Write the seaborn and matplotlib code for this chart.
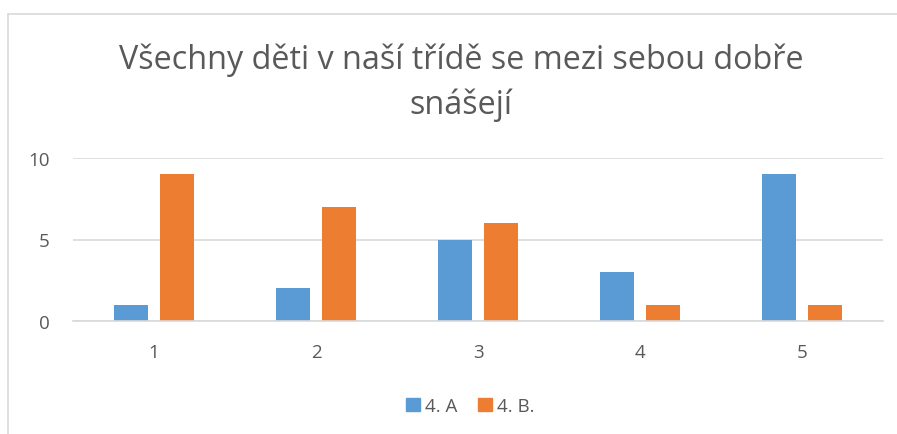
import matplotlib
matplotlib.use("Agg")
import matplotlib.pyplot as plt
import seaborn as sns
import pandas as pd
from matplotlib.lines import Line2D
from matplotlib.patches import Patch

categories = ["1", "2", "3", "4", "5"]
series_a = [1, 2, 5, 3, 9]
series_b = [9, 7, 6, 1, 1]
series_names = ["4. A", "4. B."]
colors = ["#5B9BD5", "#ED7D31"]
title = "Všechny děti v naší třídě se mezi sebou dobře\nsnášejí"

sns.set_theme(style="white")
plt.rcParams['font.family'] = ['Open Sans', 'DejaVu Sans']

df = pd.DataFrame({
    "cat": categories * 2,
    "val": series_a + series_b,
    "series": [series_names[0]] * 5 + [series_names[1]] * 5,
})

fig = plt.figure(figsize=(8.97, 4.35), dpi=100)
ax = fig.add_axes([73/897, 1 - 322/435, (883-73)/897, (322-159)/435])
sns.barplot(data=df, x="cat", y="val", hue="series", palette=colors,
            width=0.568, gap=0.24, ax=ax, legend=False, saturation=1,
            linewidth=0)
ax.set_ylim(0, 10)
ax.set_xlim(-0.5, 4.5)
ax.set_yticks([0, 5, 10])
ax.yaxis.grid(True, color="#D9D9D9", linewidth=1.2)
ax.set_axisbelow(True)
for s in ["top", "right", "left"]:
    ax.spines[s].set_visible(False)
ax.spines["bottom"].set_color("#D9D9D9")
ax.spines["bottom"].set_linewidth(1.2)
ax.set_xlabel("")
ax.set_ylabel("")
ax.tick_params(axis="both", length=0, labelsize=13.5, colors="#595959")
ax.tick_params(axis="y", pad=17)
ax.tick_params(axis="x", pad=16)

fig.text(461/897, 1 - 83/435, title, ha="center", va="center", fontsize=23.3,
         color="#595959", linespacing=1.45)

handles = [Patch(facecolor=c, edgecolor=c) for c in colors]
fig.legend(handles, series_names, loc="center", bbox_to_anchor=(470/897, 1 - 407/435),
           ncol=2, frameon=False, fontsize=13.5, handlelength=0.75, handleheight=0.75,
           handletextpad=0.25, columnspacing=1.1, labelcolor="#595959")

fig.add_artist(Line2D([8/897, 1], [1 - 15/435, 1 - 15/435], transform=fig.transFigure,
                      color="#D9D9D9", linewidth=1.2))
fig.add_artist(Line2D([8/897, 8/897], [0, 1 - 15/435], transform=fig.transFigure,
                      color="#D9D9D9", linewidth=1.2))

fig.savefig("out.png", dpi=100)
